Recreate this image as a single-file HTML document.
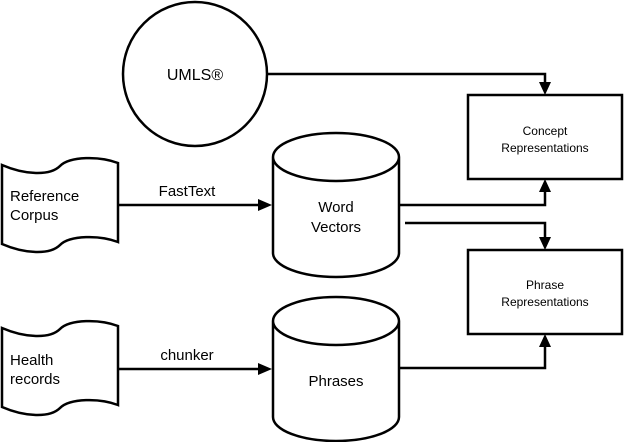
<!DOCTYPE html>
<html><head><meta charset="utf-8"><style>
html,body{margin:0;padding:0;background:#fff;}
svg{display:block;}
text{font-family:"Liberation Sans",sans-serif;fill:#000;}
</style></head><body>
<svg width="624" height="442" viewBox="0 0 624 442" xmlns="http://www.w3.org/2000/svg">
<g fill="none" stroke="#000" stroke-width="2.5">
<circle cx="195" cy="74" r="72" fill="#fff"/>
<!-- Word vectors cylinder -->
<path d="M273,157 L273,253 A63,24 0 0 0 399,253 L399,157 A63,24 0 0 0 273,157 A63,24 0 0 0 399,157" fill="#fff"/>
<!-- Phrases cylinder -->
<path d="M273,321 L273,417 A63,24 0 0 0 399,417 L399,321 A63,24 0 0 0 273,321 A63,24 0 0 0 399,321" fill="#fff"/>
<!-- Reference doc -->
<path d="M2,165 C25,175 50,176 60,166 C70,156 100,156 118,163 L118,242 C100,235 70,235 60,245 C50,255 25,254 2,244 Z" fill="#fff"/>
<!-- Health doc -->
<path d="M2,328 C25,338 50,339 60,329 C70,319 100,319 118,326 L118,405 C100,398 70,398 60,408 C50,418 25,417 2,407 Z" fill="#fff"/>
<rect x="468" y="95" width="154" height="84" fill="#fff"/>
<rect x="468" y="250" width="154" height="84" fill="#fff"/>
<!-- connectors -->
<path d="M268,74 L545,74 L545,83"/>
<path d="M399,205 L545,205 L545,191"/>
<path d="M405,223 L545,223 L545,238"/>
<path d="M399,368 L545,368 L545,346"/>
<path d="M118,205 L258,205"/>
<path d="M118,369 L258,369"/>
</g>
<g fill="#000">
<polygon points="539,82 551,82 545,95"/>
<polygon points="539,192 551,192 545,179"/>
<polygon points="539,237 551,237 545,250"/>
<polygon points="539,347 551,347 545,334"/>
<polygon points="258,199 258,211 272,205"/>
<polygon points="258,363 258,375 272,369"/>
</g>
<text x="195" y="80" font-size="16" text-anchor="middle">UMLS®</text>
<text x="10" y="201" font-size="15">Reference</text>
<text x="10" y="220" font-size="15">Corpus</text>
<text x="10" y="365" font-size="15">Health</text>
<text x="10" y="384" font-size="15">records</text>
<text x="187" y="196" font-size="15" text-anchor="middle">FastText</text>
<text x="187" y="360" font-size="15" text-anchor="middle">chunker</text>
<text x="336" y="212" font-size="15" text-anchor="middle">Word</text>
<text x="336" y="232" font-size="15" text-anchor="middle">Vectors</text>
<text x="336" y="386" font-size="15" text-anchor="middle">Phrases</text>
<text x="545" y="135" font-size="12" text-anchor="middle">Concept</text>
<text x="545" y="152" font-size="12" text-anchor="middle">Representations</text>
<text x="545" y="289" font-size="12" text-anchor="middle">Phrase</text>
<text x="545" y="306" font-size="12" text-anchor="middle">Representations</text>
</svg>
</body></html>
